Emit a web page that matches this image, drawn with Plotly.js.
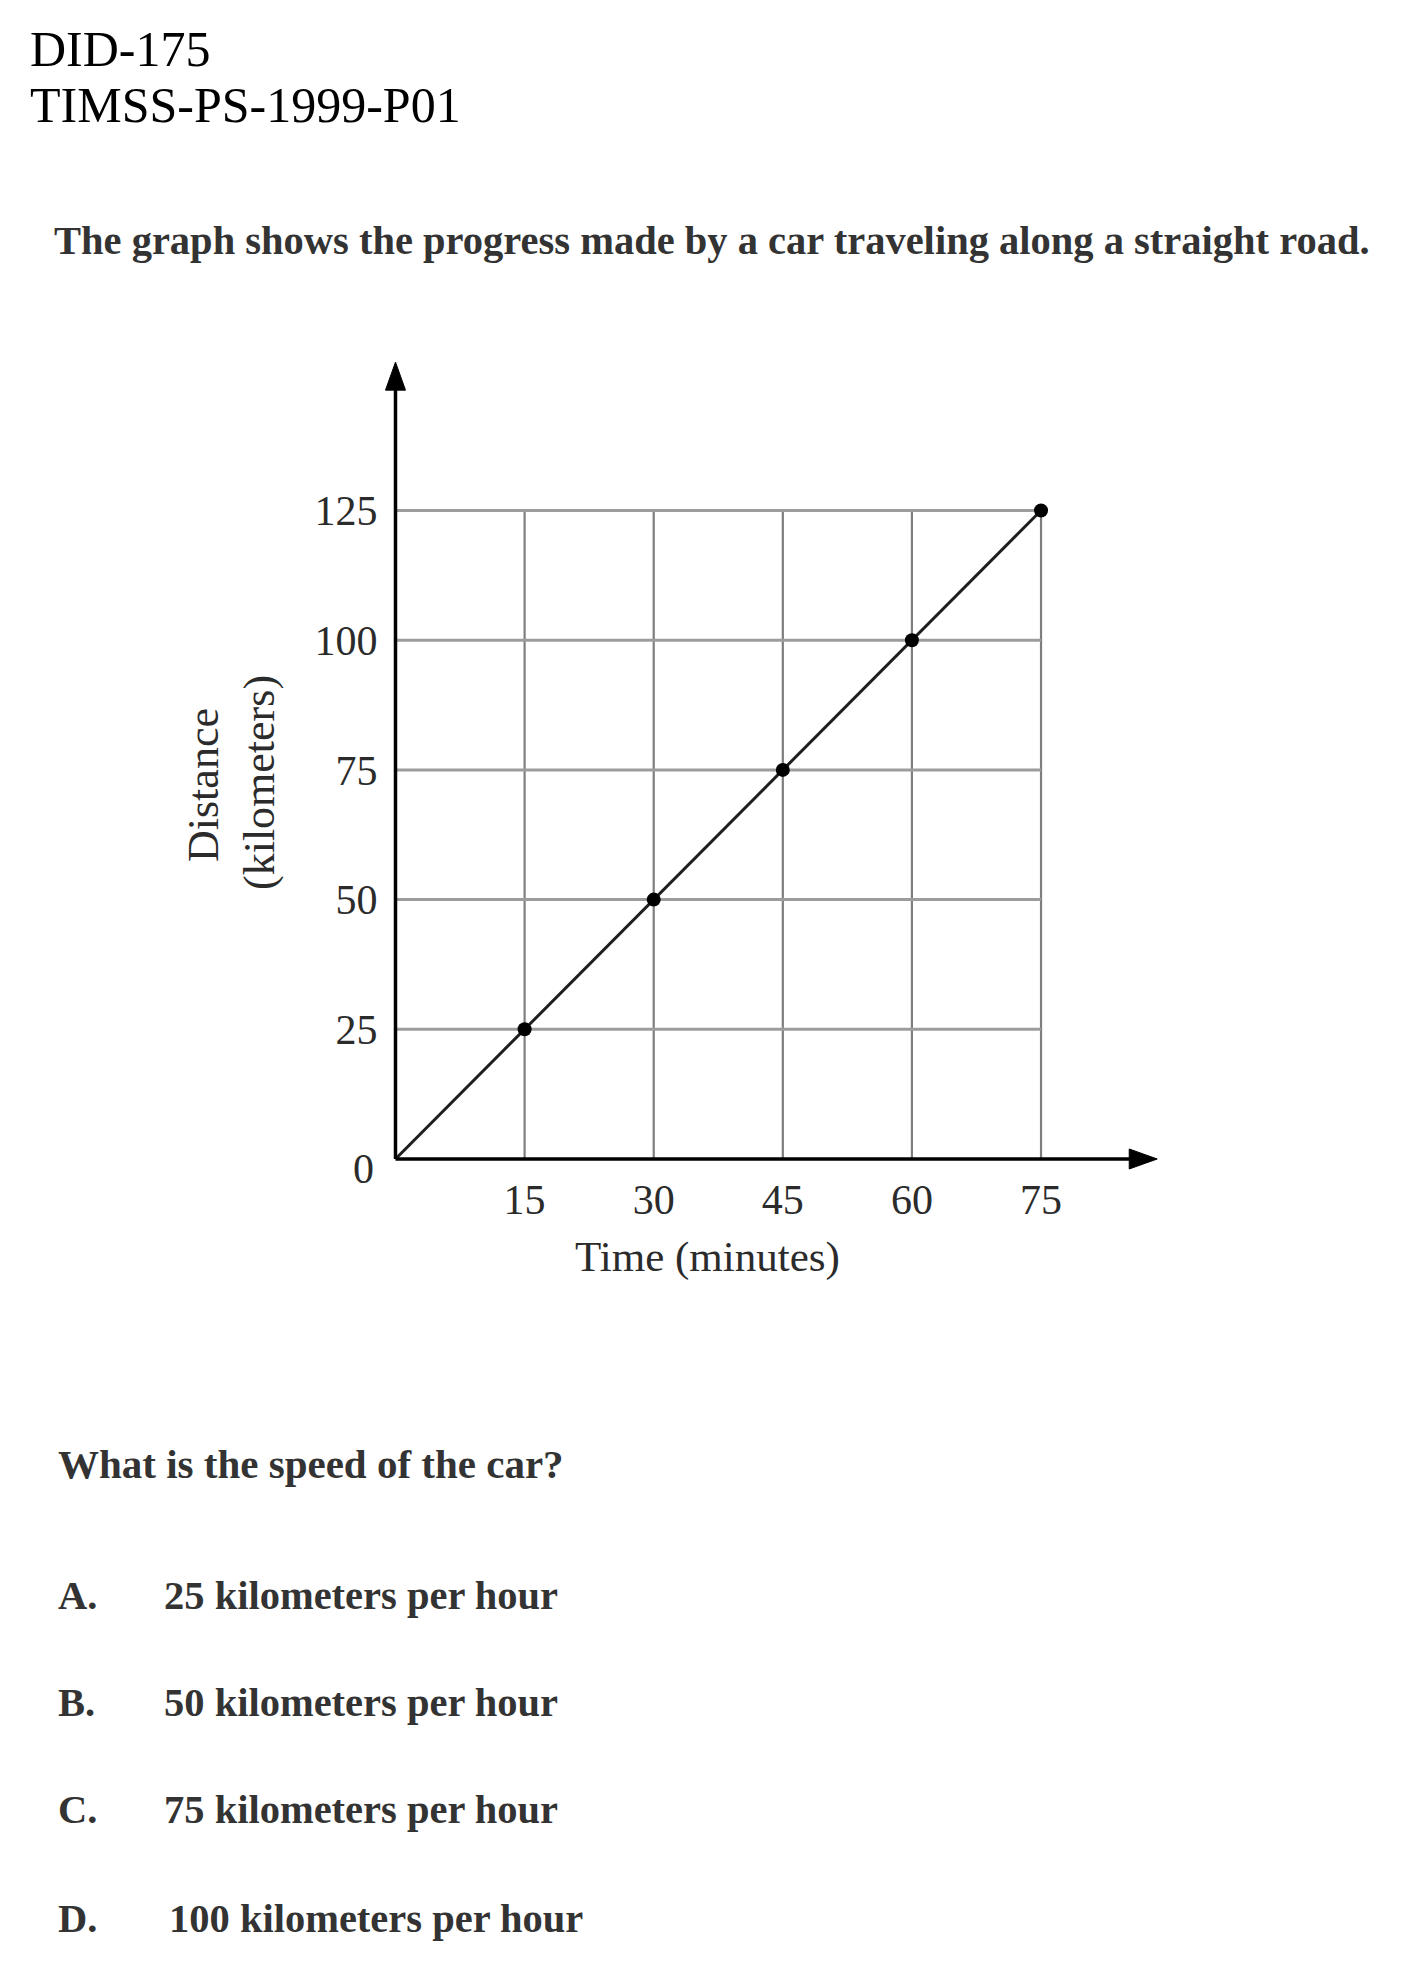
<!DOCTYPE html>
<html>
<head>
<meta charset="utf-8">
<script src="https://cdn.plot.ly/plotly-3.0.1.min.js"></script>
<style>
html,body{margin:0;padding:0;background:#fff;}
#chart{width:1406px;height:1988px;}
</style>
</head>
<body>
<div id="chart"></div>
<script>
// ---- data ----
var timeMinutes = [0, 15, 30, 45, 60, 75];
var distanceKm = [0, 25, 50, 75, 100, 125];
var markedTime = [15, 30, 45, 60, 75];
var markedDistance = [25, 50, 75, 100, 125];
var xTickVals = [15, 30, 45, 60, 75];
var xTickText = ['15', '30', '45', '60', '75'];
var yTickVals = [25, 50, 75, 100, 125];
var yTickText = ['25', '50', '75', '100', '125'];
var headerLines = ['DID-175', 'TIMSS-PS-1999-P01'];
var introText = 'The graph shows the progress made by a car traveling along a straight road.';
var questionText = 'What is the speed of the car?';
var optionLetters = ['A.', 'B.', 'C.', 'D.'];
var optionTexts = ['25 kilometers per hour', '50 kilometers per hour', '75 kilometers per hour', '100 kilometers per hour'];
var xTitle = 'Time (minutes)';
var yTitleLines = ['Distance', '(kilometers)'];

// ---- layout geometry (pixels on the 1406x1988 page) ----
var W = 1406, H = 1988;
var x0px = 395.5, pxPerMin = 8.607;
var y0px = 1159, pxPerKm = 5.188;
var xRange = [-3, 92], yRange = [-4, 158];
var xArrowTip = 88.5, yArrowTip = 153.6;
function px(x) { return x / W; }
function py(y) { return 1 - y / H; }
var xDomain = [px(x0px + xRange[0] * pxPerMin), px(x0px + xRange[1] * pxPerMin)];
var yDomain = [py(y0px - yRange[0] * pxPerKm), py(y0px - yRange[1] * pxPerKm)];

var serif = 'Liberation Serif, Times New Roman, serif';
var tickFont = {family: serif, size: 42, color: '#2b2b2b'};

var xMax = xTickVals[xTickVals.length - 1];
var yMax = yTickVals[yTickVals.length - 1];

var shapes = [];
// grid: vertical lines
xTickVals.forEach(function (v) {
  shapes.push({type: 'line', xref: 'x', yref: 'y', x0: v, x1: v, y0: 0, y1: yMax,
    line: {color: '#7e7e7e', width: 2.2}, layer: 'below'});
});
// grid: horizontal lines
yTickVals.forEach(function (v) {
  shapes.push({type: 'line', xref: 'x', yref: 'y', x0: 0, x1: xMax, y0: v, y1: v,
    line: {color: '#9c9c9c', width: 3}, layer: 'below'});
});
// axis lines
shapes.push({type: 'line', xref: 'x', yref: 'y', x0: 0, x1: xArrowTip - 2, y0: 0, y1: 0,
  line: {color: '#000', width: 3.5}});
shapes.push({type: 'line', xref: 'x', yref: 'y', x0: 0, x1: 0, y0: 0, y1: yArrowTip - 4,
  line: {color: '#000', width: 3.5}});
// arrowheads (pixel-sized, anchored at the axis tips)
shapes.push({type: 'path', xref: 'x', yref: 'y', xsizemode: 'pixel', ysizemode: 'pixel',
  xanchor: xArrowTip, yanchor: 0, path: 'M0,0 L-28,10 L-28,-10 Z',
  fillcolor: '#000', line: {color: '#000', width: 1}});
shapes.push({type: 'path', xref: 'x', yref: 'y', xsizemode: 'pixel', ysizemode: 'pixel',
  xanchor: 0, yanchor: yArrowTip, path: 'M0,0 L-10,-28 L10,-28 Z',
  fillcolor: '#000', line: {color: '#000', width: 1}});

var introFont = {family: serif, size: 40.5, color: '#333'};
var bodyFont = {family: serif, size: 40.5, color: '#333'};
var questionFont = {family: serif, size: 41, color: '#333'};
var titleFont = {family: serif, size: 43, color: '#2b2b2b'};
var yTitleFont = {family: serif, size: 44, color: '#2b2b2b'};
var annotations = [];
// header
annotations.push({xref: 'paper', yref: 'paper', x: px(28), y: py(49), xanchor: 'left', yanchor: 'middle',
  text: headerLines[0], showarrow: false, font: {family: serif, size: 50, color: '#000'}});
annotations.push({xref: 'paper', yref: 'paper', x: px(28), y: py(105), xanchor: 'left', yanchor: 'middle',
  text: headerLines[1], showarrow: false, font: {family: serif, size: 50, color: '#000'}});
// intro
annotations.push({xref: 'paper', yref: 'paper', x: px(52), y: py(240), xanchor: 'left', yanchor: 'middle',
  text: '<b>' + introText + '</b>', showarrow: false, font: introFont});
// question
annotations.push({xref: 'paper', yref: 'paper', x: px(56), y: py(1464), xanchor: 'left', yanchor: 'middle',
  text: '<b>' + questionText + '</b>', showarrow: false, font: questionFont});
var optionY = [1595, 1702, 1809, 1918];
optionLetters.forEach(function (l, i) {
  annotations.push({xref: 'paper', yref: 'paper', x: px(56), y: py(optionY[i]), xanchor: 'left', yanchor: 'middle',
    text: '<b>' + l + '</b>', showarrow: false, font: bodyFont});
  annotations.push({xref: 'paper', yref: 'paper', x: px(i === 3 ? 167 : 162), y: py(optionY[i]), xanchor: 'left', yanchor: 'middle',
    text: '<b>' + optionTexts[i] + '</b>', showarrow: false, font: bodyFont});
});
// axis titles
annotations.push({xref: 'paper', yref: 'paper', x: px(707), y: py(1257), xanchor: 'center', yanchor: 'middle',
  text: xTitle, showarrow: false, font: titleFont});
annotations.push({xref: 'paper', yref: 'paper', x: px(203), y: py(785), xanchor: 'center', yanchor: 'middle',
  text: yTitleLines[0], textangle: -90, showarrow: false, font: yTitleFont});
annotations.push({xref: 'paper', yref: 'paper', x: px(259), y: py(783), xanchor: 'center', yanchor: 'middle',
  text: yTitleLines[1], textangle: -90, showarrow: false, font: yTitleFont});
// origin label
annotations.push({xref: 'x', yref: 'y', x: 0, y: 0, xanchor: 'center', yanchor: 'middle', xshift: -32, yshift: -10,
  text: '0', showarrow: false, font: tickFont});

var traces = [
  {x: timeMinutes, y: distanceKm, mode: 'lines', line: {color: '#1e1e1e', width: 3},
   hoverinfo: 'skip', showlegend: false},
  {x: markedTime, y: markedDistance, mode: 'markers', marker: {color: '#000', size: 14},
   showlegend: false}
];

var layout = {
  width: W, height: H,
  margin: {l: 0, r: 0, t: 0, b: 0, autoexpand: false},
  paper_bgcolor: '#fff', plot_bgcolor: 'rgba(0,0,0,0)',
  showlegend: false,
  xaxis: {range: xRange, domain: xDomain, anchor: 'free', position: py(y0px),
    tickvals: xTickVals, ticktext: xTickText, showgrid: false, zeroline: false, showline: false,
    ticks: '', tickfont: tickFont, ticklabelstandoff: 12, fixedrange: true},
  yaxis: {range: yRange, domain: yDomain, anchor: 'free', position: px(x0px),
    tickvals: yTickVals, ticktext: yTickText, showgrid: false, zeroline: false, showline: false,
    ticks: '', tickfont: tickFont, ticklabelstandoff: 18, fixedrange: true},
  shapes: shapes,
  annotations: annotations
};

Plotly.newPlot('chart', traces, layout, {displayModeBar: false, staticPlot: true});
</script>
</body>
</html>
